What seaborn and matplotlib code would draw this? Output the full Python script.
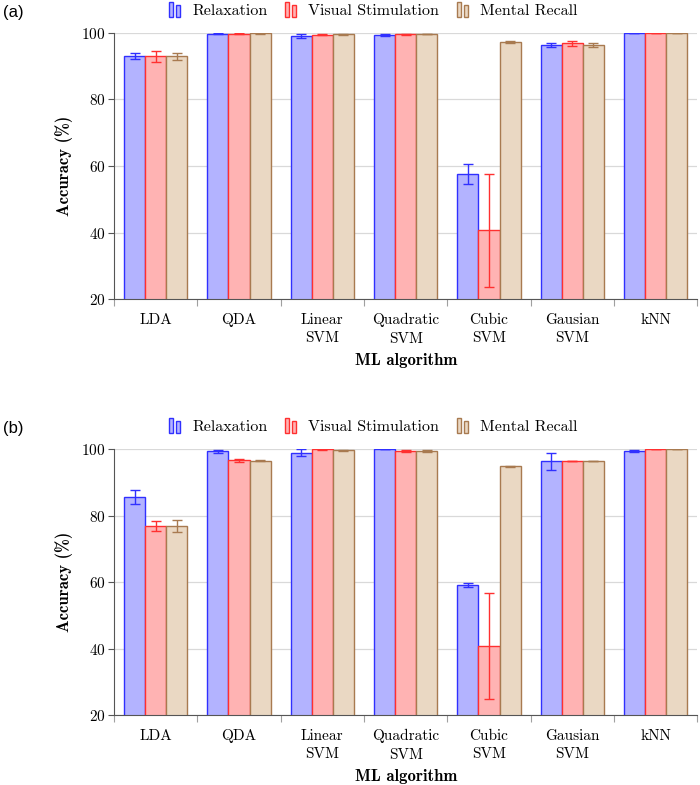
import numpy as np
import pandas as pd
import matplotlib
matplotlib.use("Agg")
import matplotlib.pyplot as plt
from matplotlib.patches import Rectangle, Patch
from matplotlib.legend_handler import HandlerBase
import seaborn as sns

# ---- data ----
algorithms = ["LDA", "QDA", "Linear\nSVM", "Quadratic\nSVM", "Cubic\nSVM", "Gausian\nSVM", "kNN"]
conditions = ["Relaxation", "Visual Stimulation", "Mental Recall"]

# panel (a)
a_relax = [93.1, 99.8, 99.1, 99.4, 57.5, 96.4, 100.0]
a_relax_err = [1.0, 0.2, 0.5, 0.3, 3.0, 0.7, 0.0]
a_visual = [93.0, 99.8, 99.5, 99.6, 40.7, 96.9, 100.0]
a_visual_err = [1.6, 0.2, 0.2, 0.2, 17.0, 0.8, 0.0]
a_mental = [93.0, 99.9, 99.6, 99.7, 97.3, 96.3, 100.0]
a_mental_err = [1.1, 0.1, 0.2, 0.1, 0.3, 0.6, 0.0]

# panel (b)
b_relax = [85.5, 99.3, 98.9, 100.0, 59.1, 96.3, 99.4]
b_relax_err = [2.1, 0.5, 1.0, 0.0, 0.7, 2.6, 0.3]
b_visual = [76.9, 96.6, 99.9, 99.4, 40.7, 96.4, 100.0]
b_visual_err = [1.6, 0.4, 0.1, 0.3, 15.9, 0.1, 0.0]
b_mental = [76.9, 96.5, 99.6, 99.3, 94.8, 96.4, 100.0]
b_mental_err = [1.9, 0.1, 0.2, 0.3, 0.1, 0.1, 0.0]

fills = ["#b3b3ff", "#ffb3b3", "#ead8c3"]
edges = ["#3030ff", "#ff3030", "#a87a50"]

plt.rcParams['font.family'] = 'cmr10'
plt.rcParams['axes.formatter.use_mathtext'] = True
plt.rcParams['font.size'] = 11


class TwoBars(HandlerBase):
    def create_artists(self, legend, orig_handle, xdescent, ydescent,
                       width, height, fontsize, trans):
        fc = orig_handle.get_facecolor()
        ec = orig_handle.get_edgecolor()
        w = width * 0.34
        r1 = Rectangle((-xdescent, -ydescent - 0.1 * height), w, height * 1.2,
                       facecolor=fc, edgecolor=ec, lw=1.0, transform=trans)
        r2 = Rectangle((-xdescent + w * 1.75, -ydescent - 0.1 * height), w, height * 1.0,
                       facecolor=fc, edgecolor=ec, lw=1.0, transform=trans)
        return [r1, r2]


def make_df(values, errs):
    rows = []
    for cond, vals, es in zip(conditions, values, errs):
        for alg, v, e in zip(algorithms, vals, es):
            rows.append({"algorithm": alg, "condition": cond, "accuracy": v, "err": e})
    return pd.DataFrame(rows)


def draw_panel(ax, df):
    sns.barplot(data=df, x="algorithm", y="accuracy", hue="condition",
                order=algorithms, hue_order=conditions, palette=fills,
                saturation=1, width=0.76, errorbar=None, legend=False, ax=ax)
    for cont, cond, ec in zip(ax.containers, conditions, edges):
        sub = df[df["condition"] == cond].set_index("algorithm").loc[algorithms]
        xs = []
        hs = []
        for bar in cont:
            bar.set_edgecolor(ec)
            bar.set_linewidth(1.0)
            xs.append(bar.get_x() + bar.get_width() / 2)
            hs.append(bar.get_height())
        ax.errorbar(xs, hs, yerr=sub["err"].values, fmt="none", ecolor=ec,
                    elinewidth=1.0, capsize=3.5, capthick=1.0, zorder=4)

    ax.set_ylim(20, 100)
    ax.set_xlim(-0.5, len(algorithms) - 0.5)
    ax.set_yticks([20, 40, 60, 80, 100])
    ax.yaxis.grid(True, color="#d9d9d9", lw=0.9)
    ax.set_axisbelow(True)
    ax.tick_params(axis="x", which="major", length=0, pad=10)
    for t in ax.get_xticklabels():
        t.set_linespacing(1.45)
        t.set_va("top")
    ax.set_xticks(np.arange(-0.5, len(algorithms)), minor=True)
    ax.tick_params(axis="x", which="minor", length=5, color="#a0a0a0", width=0.8)
    ax.tick_params(axis="y", length=4, color="#555555", width=0.8, pad=2)
    for s in ["top", "right"]:
        ax.spines[s].set_visible(False)
    ax.spines["left"].set_color("#555555")
    ax.spines["bottom"].set_color("#555555")
    ax.set_xlabel("ML algorithm", fontfamily="cmb10", fontsize=12, labelpad=5)
    ax.set_ylabel("Accuracy (%)", fontfamily="cmb10", fontsize=12, labelpad=6)


fig = plt.figure(figsize=(7, 7.85), dpi=100)
ax_a = fig.add_axes([0.163, 0.619, 0.833, 0.339])
ax_b = fig.add_axes([0.163, 0.089, 0.833, 0.339])

draw_panel(ax_a, make_df([a_relax, a_visual, a_mental], [a_relax_err, a_visual_err, a_mental_err]))
draw_panel(ax_b, make_df([b_relax, b_visual, b_mental], [b_relax_err, b_visual_err, b_mental_err]))

handles = [Patch(facecolor=f, edgecolor=e) for f, e in zip(fills, edges)]
for ypos, lab in [(0.986, "(a)"), (0.456, "(b)")]:
    fig.legend(handles, conditions, loc="center", bbox_to_anchor=(0.533, ypos),
               ncol=3, frameon=False, handler_map={Patch: TwoBars()},
               handlelength=0.75, handleheight=0.8, handletextpad=0.7,
               columnspacing=1.1, fontsize=11.5)
    fig.text(0.004, ypos - 0.002, lab, fontfamily="Liberation Sans", fontsize=12,
             ha="left", va="center")

fig.savefig("out.png", dpi=100)
